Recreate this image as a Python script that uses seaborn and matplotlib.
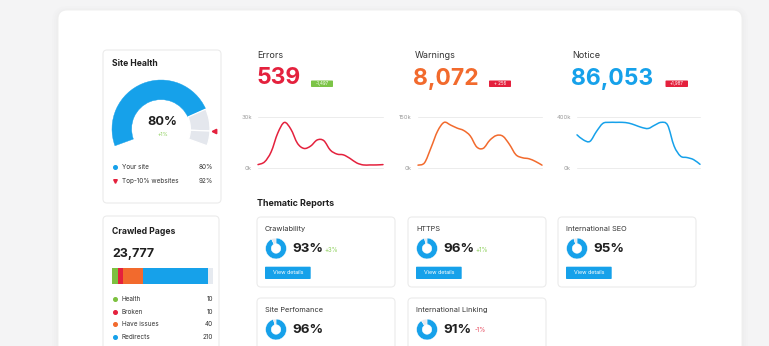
import numpy as np
import pandas as pd
import matplotlib
matplotlib.use("Agg")
import matplotlib.pyplot as plt
from matplotlib.patches import FancyBboxPatch, PathPatch
from matplotlib.path import Path
import seaborn as sns

# ---------------- data ----------------
site_health_pct = 80
site_health_delta = "+1%"
top10_pct = 92
health_legend = ["Your site", "Top-10% websites"]
health_values = ["80%", "92%"]

crawled_total = "23,777"
crawl_labels = ["Health", "Broken", "Have issues", "Redirects"]
crawl_counts = [10, 10, 40, 210]
crawl_bar_share = [5.3, 5.6, 19.2, 64.4, 5.5]   # last = remaining (grey)

metric_names = ["Errors", "Warnings", "Notice"]
metric_totals = ["539", "8,072", "86,053"]
metric_badges = ["-1,497", "+ 256", "+1,987"]
metric_ymax = [30, 150, 400]
metric_ylabels = [["0k", "30k"], ["0k", "150k"], ["0k", "400k"]]

errors_vals = [2.0, 3.6, 9.5, 20.5, 26.8, 22.8, 14.5, 11.5, 12.9, 16.5,
               16.1, 10.5, 8.2, 7.7, 5.6, 3.0, 1.8, 1.8, 1.8, 2.0]
warnings_vals = [7, 14, 59, 108, 134, 126, 117, 110, 94, 61,
                 57, 81, 95, 93, 69, 38, 29, 26, 18, 7]
notice_vals = [260, 220, 209, 286, 350, 358, 358, 358, 352, 336,
               318, 310, 336, 358, 336, 172, 93, 82, 66, 29]

report_names = ["Crawlability", "HTTPS", "International SEO",
                "Site Perfomance", "International Linking"]
report_pct = [93, 96, 95, 96, 91]
report_delta = ["+3%", "+1%", "", "", "-1%"]

# ---------------- style ----------------
W, H = 769, 346
PAGE_BG = "#f4f4f5"
RED = "#e4213d"
ORANGE = "#f26a2d"
BLUE = "#16a1ea"
GREEN = "#7cc13f"
RING_GREY = "#e4e7ed"
DARK = "#1f1f1f"
BORDER = "#ebebeb"

sns.set_theme(style="white")
plt.rcParams["font.family"] = ["Inter", "DejaVu Sans"]

fig = plt.figure(figsize=(W / 100, H / 100), dpi=100, facecolor=PAGE_BG)
bg = fig.add_axes([0, 0, 1, 1])
bg.set_xlim(0, W)
bg.set_ylim(H, 0)
bg.axis("off")
bg.patch.set_alpha(0)


def px_axes(x0, y0, x1, y1):
    ax = fig.add_axes([x0 / W, 1 - y1 / H, (x1 - x0) / W, (y1 - y0) / H])
    ax.patch.set_alpha(0)
    return ax


def card(x0, y0, x1, y1, r=4, ec=BORDER, fc="white", lw=0.8, z=1, alpha=1):
    bg.add_patch(FancyBboxPatch((x0, y0), x1 - x0, y1 - y0,
                                boxstyle=f"round,pad=0,rounding_size={r}",
                                fc=fc, ec=ec, lw=lw, zorder=z, alpha=alpha))


def txt(x, y, s, size, color=DARK, weight="normal", ha="left", va="center", z=5):
    bg.text(x, y, s, fontsize=size, color=color, fontweight=weight,
            ha=ha, va=va, zorder=z)


def smooth_path(x, y):
    pts = np.column_stack([x, y])
    n = len(pts)
    verts = [pts[0]]
    codes = [Path.MOVETO]
    for i in range(n - 1):
        p0 = pts[max(i - 1, 0)]
        p1 = pts[i]
        p2 = pts[i + 1]
        p3 = pts[min(i + 2, n - 1)]
        verts += [p1 + (p2 - p0) / 6, p2 - (p3 - p1) / 6, p2]
        codes += [Path.CURVE4] * 3
    return Path(verts, codes)


# outer card with soft shadow
for i, a in enumerate([0.05, 0.05, 0.06]):
    d = 6 - 2 * i
    card(58 - d, 10 - d + 2, 742 + d, 380, r=10 + d, ec="none", fc="#d8d8dc", z=0, alpha=a)
card(58, 10, 742, 380, r=9, ec="#eeeeee", fc="white", lw=0.6, z=0.5)

# ---------------- Site Health ----------------
card(103, 50, 221, 203)
txt(112, 64, "Site Health", 6.2, weight="bold")

gx, gy, gr = 161, 129, 49
gax = px_axes(gx - 55, gy - 55, gx + 55, gy + 13)
span = 220.0
gauge_vals = [site_health_pct, top10_pct - site_health_pct, 100 - top10_pct]
hidden = 100 * (360 - span) / span
wedges, _ = gax.pie(gauge_vals + [hidden], colors=[BLUE, RING_GREY, RING_GREY, "none"],
                    startangle=200, counterclock=False, radius=1,
                    wedgeprops=dict(width=0.40, edgecolor="white", linewidth=0.9))
wedges[0].set_edgecolor(BLUE)
wedges[0].set_linewidth(0.3)
wedges[-1].set_edgecolor("none")
ang = np.deg2rad(200 - span * top10_pct / 100)
gax.plot([1.08 * np.cos(ang)], [1.08 * np.sin(ang)], marker="<", ms=3.2,
         color=RED, clip_on=False, zorder=6)
gax.set_xlim(-55 / gr, 55 / gr)
gax.set_ylim(-13 / gr, 55 / gr)
gax.set_aspect("auto")
gax.axis("off")

txt(162.5, 122, f"{site_health_pct}%", 9.2, weight="bold", ha="center")
txt(162.5, 134, site_health_delta, 3.8, color="#8ccf5a", ha="center")

bg.plot([115], [167], "o", ms=2.6, color=BLUE, zorder=6)
bg.plot([115], [181.3], "v", ms=2.6, color=RED, zorder=6)
for i, (lab, val) in enumerate(zip(health_legend, health_values)):
    y = 167 + i * 14.3
    txt(122, y, lab, 4.6, color="#333333")
    txt(213, y, val, 4.6, color="#333333", ha="right")

# ---------------- Crawled Pages ----------------
card(103, 216, 219, 380)
txt(112, 231, "Crawled Pages", 6.2, weight="bold")
txt(112, 253.5, crawled_total, 9.0, weight="bold")

bax = px_axes(112.3, 267.7, 213.3, 283.5)
crawl_colors = [GREEN, RED, ORANGE, BLUE, "#e6eaf0"]
left = 0.0
for share, col in zip(crawl_bar_share, crawl_colors):
    bax.barh([0], [share], left=left, height=1.0, color=col, edgecolor="none")
    left += share
bax.set_xlim(0, sum(crawl_bar_share))
bax.set_ylim(-0.5, 0.5)
bax.axis("off")

for i, (lab, cnt, col) in enumerate(zip(crawl_labels, crawl_counts, crawl_colors)):
    y = 299 + i * 12.6
    bg.plot([114.5], [y], "o", ms=2.6, color=col, zorder=6)
    txt(122, y, lab, 4.6, color="#333333")
    txt(213, y, str(cnt), 4.6, color="#333333", ha="right")

# ---------------- Metric sparklines ----------------
metric_colors = [RED, ORANGE, BLUE]
metric_series = [errors_vals, warnings_vals, notice_vals]
title_x = [257.5, 414.5, 572.5]
badge_boxes = [(311, 80.5, 333, 87), (489, 80.5, 511, 87), (665.5, 80.5, 688, 87)]
badge_colors = ["#7cc447", "#e4213d", "#e4213d"]
chart_boxes = [(258, 117, 383, 168), (418, 117, 542, 167.5), (577, 117, 700, 168)]

for i in range(3):
    txt(title_x[i], 55, metric_names[i], 6.5, color="#333333")
    txt(title_x[i] - 1, 78.5, metric_totals[i], 16.5, color=metric_colors[i], weight="bold")
    bx0, by0, bx1, by1 = badge_boxes[i]
    card(bx0, by0, bx1, by1, r=0.8, ec="none", fc=badge_colors[i], z=3)
    txt((bx0 + bx1) / 2, (by0 + by1) / 2 + 0.2, metric_badges[i], 3.2, color="white", ha="center")

    ax = px_axes(*chart_boxes[i])
    df = pd.DataFrame({"t": np.arange(len(metric_series[i])), "v": metric_series[i]})
    sns.lineplot(data=df, x="t", y="v", ax=ax, color=metric_colors[i], linewidth=1.1)
    ln = ax.lines[0]
    xs, ys = np.asarray(ln.get_xdata(), float), np.asarray(ln.get_ydata(), float)
    ln.set_visible(False)
    ax.add_patch(PathPatch(smooth_path(xs, ys), fill=False, ec=metric_colors[i],
                           lw=1.1, capstyle="round", joinstyle="round",
                           clip_on=False, zorder=3))
    ax.set_xlim(0, len(metric_series[i]) - 1)
    ax.set_ylim(0, metric_ymax[i])
    ax.set_yticks([0, metric_ymax[i]])
    ax.set_yticklabels(metric_ylabels[i])
    ax.set_xticks([])
    ax.set_xlabel("")
    ax.set_ylabel("")
    ax.tick_params(axis="y", length=0, pad=4.5, labelsize=4.2, labelcolor="#9a9a9a")
    for s in ax.spines.values():
        s.set_visible(False)
    ax.grid(axis="y", color="#ececec", linewidth=0.7)
    for gl in ax.get_ygridlines():
        gl.set_clip_on(False)
    ax.set_axisbelow(True)

# ---------------- Thematic Reports ----------------
txt(257, 204, "Thematic Reports", 6.4, weight="bold")

card_x = [257, 408, 558]
row_y = [217, 298]
for k, (name, pct, delta) in enumerate(zip(report_names, report_pct, report_delta)):
    row, col = divmod(k, 3)
    x0 = card_x[col]
    y0 = row_y[row]
    card(x0, y0, x0 + 138, y0 + 70 if row == 0 else 380)
    tx = x0 + 8
    txt(tx, y0 + 12, name, 5.3, color="#333333")
    cx, cy = x0 + 19, y0 + 31.5
    dax = px_axes(cx - 12, cy - 12, cx + 12, cy + 12)
    dax.pie([pct, 100 - pct], colors=[BLUE, RING_GREY], startangle=90,
            counterclock=False, radius=1,
            wedgeprops=dict(width=0.54, edgecolor="white", linewidth=0.3))
    dax.set_xlim(-12 / 10.4, 12 / 10.4)
    dax.set_ylim(-12 / 10.4, 12 / 10.4)
    dax.set_aspect("auto")
    dax.axis("off")
    txt(x0 + 35.5, cy + 0.5, f"{pct}%", 9.6, weight="bold")
    if delta:
        dcol = "#8ccf5a" if delta.startswith("+") else "#e74a5e"
        txt(x0 + 67, cy + 1, delta, 4.4, color=dcol)
    if row == 0:
        card(tx, y0 + 49.7, tx + 45.7, y0 + 62, r=0.8, ec="none", fc=BLUE, z=3)
        txt(tx + 22.8, y0 + 56, "View details", 3.9, color="white", ha="center")

fig.savefig("out.png", dpi=100, facecolor=PAGE_BG)
